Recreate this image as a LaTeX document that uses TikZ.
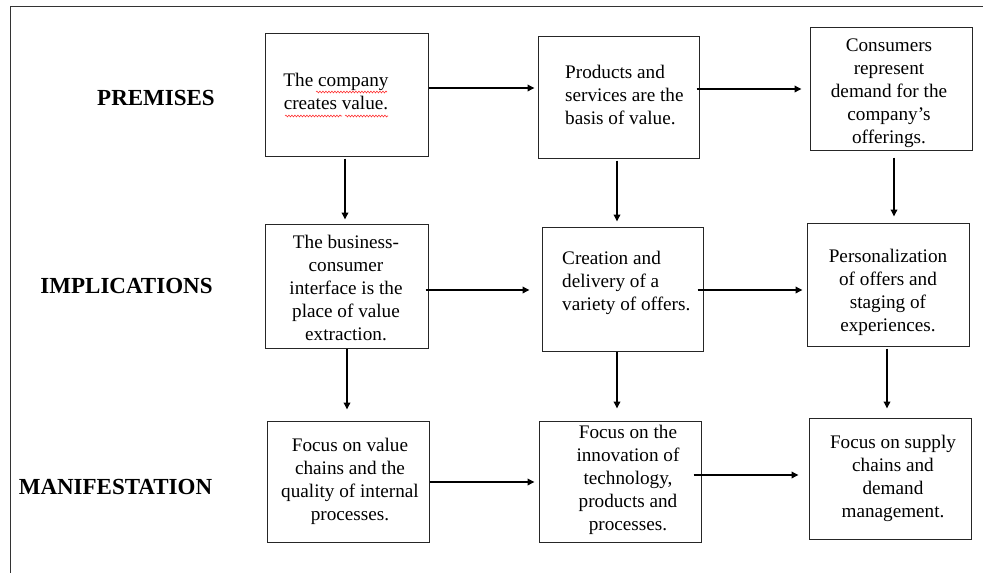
\documentclass[tikz,border=0pt]{standalone}
\usepackage{fontspec}
\setmainfont{Liberation Serif}
\usetikzlibrary{arrows.meta,decorations.pathmorphing}
\begin{document}
\begin{tikzpicture}[x=1pt,y=-1pt,
  box/.style={draw=black!85,line width=1pt,inner sep=0pt,minimum width=162pt,minimum height=122pt},
  txt/.style={inner sep=0pt,align=center,font=\fontsize{19.2}{23}\selectfont},
  lab/.style={inner sep=0pt,font=\fontsize{23}{27}\selectfont\bfseries},
  arr/.style={line width=1.8pt,-{Triangle[length=7pt,width=6.5pt]}},
  squig/.style={draw=red!80,line width=0.6pt,decorate,decoration={snake,amplitude=0.9pt,segment length=3pt}}]
\useasboundingbox (0,0) rectangle (983,573);
\draw[line width=1pt,black!80] (10,573) -- (10,6) -- (983,6);
% boxes
\node[box,minimum width=163pt,minimum height=123pt] (b1) at (346.5,94.5) {};
\node[box,minimum width=161pt,minimum height=122pt] (b2) at (618.5,97) {};
\node[box,minimum width=162pt,minimum height=123pt] (b3) at (891,88.5) {};
\node[box,minimum width=163pt,minimum height=124pt] (b4) at (346.5,286) {};
\node[box,minimum width=161pt,minimum height=124pt] (b5) at (622.5,289) {};
\node[box,minimum width=162pt,minimum height=123pt] (b6) at (888,284.5) {};
\node[box,minimum width=162pt,minimum height=121pt] (b7) at (348,481.5) {};
\node[box,minimum width=162pt,minimum height=121pt] (b8) at (620,481.5) {};
\node[box,minimum width=162pt,minimum height=121pt] (b9) at (890,478.5) {};
% texts
\node[txt] (t1) at (336,91.5) {The company\\creates value.};
\node[txt,anchor=west,align=left] (t2) at (565,95) {Products and\\services are the\\basis of value.};
\node[txt] (t3) at (889,93) {Consumers\\represent\\demand for the\\company's\\offerings.};
\node[txt] (t4) at (346,288) {The business-\\consumer\\interface is the\\place of value\\extraction.};
\node[txt,anchor=west,align=left] (t5) at (562,283) {Creation and\\delivery of a\\variety of offers.};
\node[txt] (t6) at (888,292) {Personalization\\of offers and\\staging of\\experiences.};
\node[txt] (t7) at (350,481) {Focus on value\\chains and the\\quality of internal\\processes.};
\node[txt] (t8) at (628,480) {Focus on the\\innovation of\\technology,\\products and\\processes.};
\node[txt] (t9) at (893,478) {Focus on supply\\chains and\\demand\\management.};
% row labels
\node[lab] (l1) at (156,97.5) {PREMISES};
\node[lab] (l2) at (126.5,286) {IMPLICATIONS};
\node[lab] (l3) at (115.5,487) {MANIFESTATION};
% spell-check squiggles
\draw[squig] (316,92) -- (387,92);
\draw[squig] (285,116) -- (342,116);
\draw[squig] (345,116) -- (388,116);
% horizontal arrows
\draw[arr,shorten >=3pt] ([yshift=6.5pt]b1.east) -- ([yshift=6.5pt]b1.east -| b2.west);
\draw[arr,shorten >=8pt] ([xshift=-3pt,yshift=8pt]b2.east) -- ([yshift=8pt]b2.east -| b3.west);
\draw[arr,shorten >=12pt] ([xshift=-3pt,yshift=-4pt]b4.east) -- ([yshift=-4pt]b4.east -| b5.west);
\draw[arr,shorten >=4pt] ([xshift=-6pt,yshift=-1pt]b5.east) -- ([yshift=-1pt]b5.east -| b6.west);
\draw[arr,shorten >=4pt] ([yshift=-0.5pt]b7.east) -- ([yshift=-0.5pt]b7.east -| b8.west);
\draw[arr,shorten >=10pt] ([xshift=-8pt,yshift=6.5pt]b8.east) -- ([yshift=6.5pt]b8.east -| b9.west);
% vertical arrows
\draw[arr,shorten <=2pt,shorten >=4pt] ([xshift=-1.5pt]b1.south) -- ([xshift=-1.5pt]b1.south |- b4.north);
\draw[arr,shorten >=11pt] ([xshift=0.5pt]b4.south) -- ([xshift=0.5pt]b4.south |- b7.north);
\draw[arr,shorten <=2pt,shorten >=5pt] ([xshift=-1.5pt]b2.south) -- ([xshift=-1.5pt]b2.south |- b5.north);
\draw[arr,shorten >=12pt] ([xshift=-5.5pt]b5.south) -- ([xshift=-5.5pt]b5.south |- b8.north);
\draw[arr,shorten <=7pt,shorten >=6pt] ([xshift=3pt]b3.south) -- ([xshift=3pt]b3.south |- b6.north);
\draw[arr,shorten <=2pt,shorten >=9pt] ([xshift=-1pt]b6.south) -- ([xshift=-1pt]b6.south |- b9.north);
\end{tikzpicture}
\end{document}
